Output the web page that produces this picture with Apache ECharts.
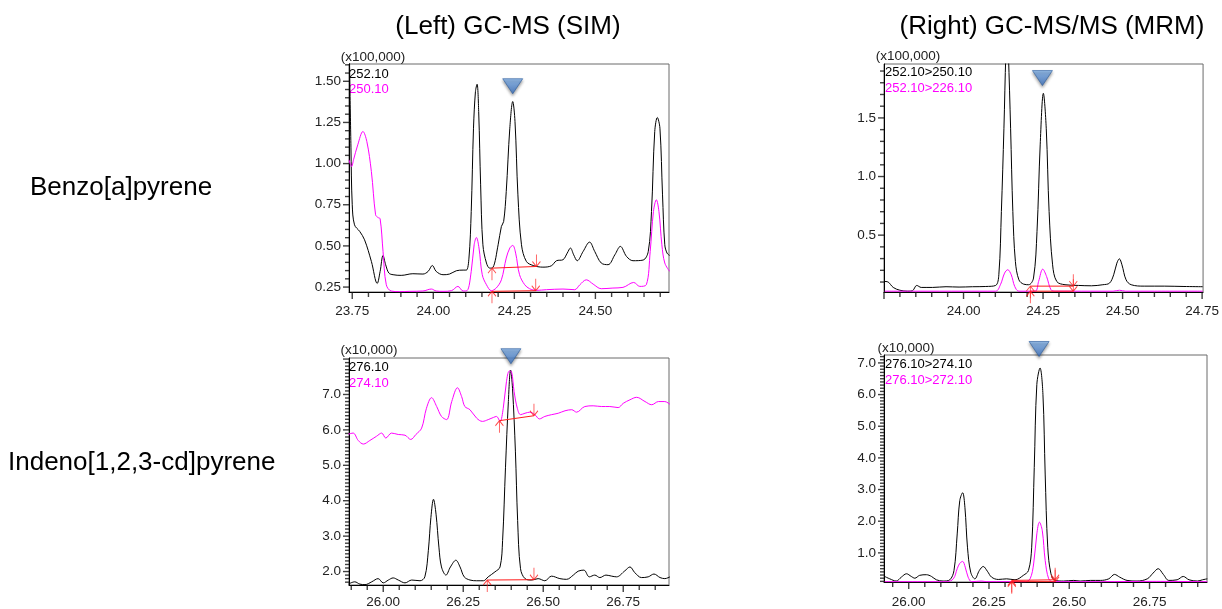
<!DOCTYPE html>
<html>
<head>
<meta charset="utf-8">
<script src="https://cdn.jsdelivr.net/npm/echarts@6/dist/echarts.min.js"></script>
<style>
  body { margin: 0; background: #fff; }
</style>
</head>
<body>
<div id="main" style="width:1222px;height:609px"></div>
<script>
// Benzo[a]pyrene, GC-MS (SIM): [retention time, intensity x100,000]
const bapSim252 = [[23.741,1.70],[23.746,1.10],[23.750,0.75],[23.757,0.628],[23.773,0.588],[23.788,0.537],[23.809,0.406],[23.827,0.272],[23.836,0.345],[23.845,0.442],[23.853,0.386],[23.863,0.335],[23.876,0.325],[23.901,0.321],[23.937,0.331],[23.968,0.329],[23.984,0.345],[23.997,0.381],[24.009,0.345],[24.030,0.325],[24.050,0.329],[24.071,0.349],[24.092,0.353],[24.102,0.353],[24.110,0.426],[24.117,0.709],[24.124,1.215],[24.130,1.437],[24.135,1.482],[24.140,1.316],[24.146,0.871],[24.153,0.507],[24.164,0.396],[24.174,0.365],[24.184,0.369],[24.200,0.507],[24.210,0.618],[24.217,0.648],[24.225,0.830],[24.236,1.215],[24.245,1.377],[24.252,1.256],[24.261,0.810],[24.272,0.507],[24.287,0.406],[24.308,0.381],[24.338,0.371],[24.364,0.379],[24.380,0.410],[24.400,0.416],[24.413,0.456],[24.423,0.487],[24.433,0.446],[24.444,0.410],[24.462,0.466],[24.482,0.523],[24.498,0.466],[24.518,0.396],[24.539,0.386],[24.560,0.446],[24.577,0.497],[24.596,0.436],[24.616,0.410],[24.647,0.414],[24.663,0.466],[24.673,0.709],[24.683,1.195],[24.691,1.280],[24.699,1.215],[24.707,0.810],[24.714,0.507],[24.721,0.456],[24.729,0.442]];
const bapSim250 = [[23.740,1.023],[23.748,0.982],[23.754,1.023],[23.767,1.114],[23.783,1.195],[23.795,1.134],[23.809,0.952],[23.822,0.689],[23.829,0.673],[23.836,0.665],[23.845,0.466],[23.855,0.264],[23.870,0.226],[23.896,0.222],[23.927,0.224],[23.968,0.226],[23.994,0.238],[24.009,0.226],[24.030,0.224],[24.056,0.228],[24.076,0.254],[24.092,0.226],[24.104,0.228],[24.117,0.345],[24.126,0.507],[24.133,0.551],[24.141,0.487],[24.151,0.325],[24.164,0.264],[24.179,0.228],[24.194,0.244],[24.210,0.294],[24.225,0.426],[24.236,0.487],[24.245,0.503],[24.254,0.456],[24.266,0.325],[24.282,0.264],[24.297,0.240],[24.318,0.230],[24.349,0.234],[24.400,0.238],[24.436,0.234],[24.452,0.264],[24.472,0.294],[24.493,0.268],[24.518,0.240],[24.554,0.244],[24.585,0.248],[24.618,0.278],[24.637,0.254],[24.657,0.264],[24.669,0.466],[24.679,0.709],[24.688,0.780],[24.696,0.709],[24.705,0.507],[24.714,0.396],[24.729,0.345]];
const bapSimBase252 = [[24.181,0.365],[24.318,0.375]];
const bapSimBase250 = [[24.181,0.224],[24.316,0.228]];

// Benzo[a]pyrene, GC-MS/MS (MRM)
const bapMrm250 = [[23.752,0.105],[23.763,0.100],[23.779,0.054],[23.800,0.030],[23.825,0.022],[23.839,0.025],[23.853,0.071],[23.867,0.054],[23.903,0.054],[23.945,0.060],[23.986,0.057],[24.028,0.060],[24.070,0.062],[24.101,0.071],[24.111,0.162],[24.119,0.702],[24.127,1.412],[24.133,2.05],[24.137,2.30],[24.141,2.05],[24.148,1.412],[24.155,0.702],[24.163,0.276],[24.174,0.119],[24.189,0.082],[24.205,0.077],[24.220,0.134],[24.231,0.531],[24.241,1.270],[24.251,1.710],[24.260,1.412],[24.269,0.702],[24.280,0.247],[24.293,0.105],[24.319,0.077],[24.361,0.071],[24.402,0.068],[24.438,0.077],[24.459,0.091],[24.472,0.162],[24.482,0.261],[24.490,0.298],[24.498,0.247],[24.511,0.119],[24.527,0.077],[24.568,0.065],[24.631,0.065],[24.693,0.062],[24.752,0.060]];
const bapMrm226 = [[23.752,0.022],[23.850,0.022],[24.000,0.022],[24.101,0.022],[24.116,0.077],[24.129,0.176],[24.139,0.205],[24.150,0.162],[24.161,0.062],[24.174,0.022],[24.225,0.022],[24.236,0.105],[24.249,0.210],[24.261,0.148],[24.275,0.034],[24.288,0.022],[24.400,0.022],[24.470,0.022],[24.490,0.030],[24.510,0.022],[24.600,0.022],[24.752,0.022]];
const bapMrmBase250 = [[24.210,0.065],[24.345,0.065]];
const bapMrmBase226 = [[24.210,0.022],[24.345,0.022]];

// Indeno[1,2,3-cd]pyrene, GC-MS (SIM): intensity x10,000
const indSim276 = [[25.891,1.645],[25.911,1.71],[25.927,1.645],[25.943,1.63],[25.964,1.71],[25.984,1.80],[26.000,1.68],[26.016,1.76],[26.031,1.82],[26.047,1.76],[26.068,1.68],[26.089,1.76],[26.115,1.74],[26.130,1.85],[26.141,2.60],[26.149,3.53],[26.157,4.04],[26.165,3.62],[26.174,2.69],[26.182,2.13],[26.196,1.90],[26.210,2.13],[26.227,2.32],[26.240,2.13],[26.253,1.85],[26.271,1.76],[26.292,1.74],[26.313,1.74],[26.328,1.85],[26.349,1.99],[26.365,2.13],[26.373,2.88],[26.382,4.93],[26.391,6.80],[26.398,7.69],[26.404,7.17],[26.413,5.40],[26.420,3.44],[26.429,2.08],[26.443,1.80],[26.464,1.76],[26.484,1.80],[26.505,1.74],[26.526,1.87],[26.552,1.80],[26.573,1.78],[26.594,1.90],[26.609,2.01],[26.627,2.04],[26.644,1.85],[26.661,1.90],[26.677,1.83],[26.696,1.90],[26.714,1.87],[26.729,1.85],[26.755,2.02],[26.771,2.13],[26.786,1.97],[26.807,1.83],[26.828,1.85],[26.846,1.93],[26.865,1.83],[26.880,1.80],[26.896,1.85]];
const indSim274 = [[25.891,5.88],[25.906,5.91],[25.922,5.70],[25.938,5.60],[25.958,5.70],[25.979,5.82],[25.995,5.91],[26.008,5.77],[26.026,5.91],[26.047,5.87],[26.068,5.85],[26.086,5.73],[26.102,5.87],[26.120,6.05],[26.135,6.61],[26.151,6.91],[26.167,6.66],[26.182,6.38],[26.198,6.29],[26.214,6.80],[26.232,7.19],[26.245,6.94],[26.255,6.66],[26.271,6.57],[26.292,6.33],[26.310,6.24],[26.328,6.29],[26.344,6.35],[26.354,6.38],[26.365,6.24],[26.375,6.61],[26.385,7.36],[26.394,7.66],[26.401,7.64],[26.409,7.08],[26.419,6.61],[26.429,6.43],[26.443,6.47],[26.458,6.50],[26.474,6.43],[26.488,6.31],[26.505,6.38],[26.526,6.43],[26.547,6.47],[26.568,6.54],[26.589,6.57],[26.604,6.50],[26.630,6.66],[26.656,6.68],[26.682,6.66],[26.708,6.66],[26.734,6.63],[26.750,6.75],[26.771,6.85],[26.792,6.92],[26.818,6.80],[26.839,6.71],[26.860,6.80],[26.880,6.80],[26.896,6.72]];
const indSimBase276 = [[26.325,1.76],[26.471,1.77]];
const indSimBase274 = [[26.363,6.26],[26.471,6.40]];

// Indeno[1,2,3-cd]pyrene, GC-MS/MS (MRM)
const indMrm274 = [[25.925,0.255],[25.941,0.18],[25.961,0.11],[25.977,0.234],[25.993,0.34],[26.008,0.255],[26.019,0.20],[26.034,0.29],[26.055,0.31],[26.071,0.255],[26.086,0.15],[26.107,0.11],[26.128,0.15],[26.141,0.444],[26.151,1.598],[26.159,2.65],[26.168,2.90],[26.175,2.44],[26.183,1.18],[26.193,0.39],[26.206,0.18],[26.220,0.444],[26.232,0.57],[26.245,0.42],[26.258,0.234],[26.279,0.16],[26.305,0.18],[26.331,0.15],[26.357,0.29],[26.373,0.444],[26.383,1.18],[26.391,3.70],[26.399,6.32],[26.409,6.84],[26.418,6.01],[26.425,3.49],[26.433,1.18],[26.443,0.34],[26.456,0.13],[26.482,0.11],[26.514,0.13],[26.534,0.11],[26.566,0.13],[26.597,0.13],[26.623,0.18],[26.641,0.32],[26.657,0.234],[26.680,0.13],[26.711,0.11],[26.743,0.18],[26.761,0.36],[26.777,0.50],[26.793,0.32],[26.810,0.13],[26.836,0.15],[26.855,0.255],[26.873,0.15],[26.899,0.11],[26.915,0.15],[26.930,0.18]];
const indMrm272 = [[25.925,0.09],[26.118,0.09],[26.139,0.18],[26.151,0.50],[26.159,0.67],[26.168,0.73],[26.176,0.55],[26.185,0.234],[26.196,0.09],[26.227,0.11],[26.243,0.09],[26.363,0.09],[26.378,0.18],[26.389,0.65],[26.399,1.60],[26.407,1.97],[26.416,1.70],[26.425,0.76],[26.436,0.18],[26.449,0.09],[26.600,0.09],[26.760,0.10],[26.930,0.09]];
const indMrmBase274 = [[26.321,0.13],[26.456,0.15]];
const indMrmBase272 = [[26.321,0.09],[26.456,0.09]];

// target peak markers (blue triangles)
const targetPeaks = [[24.245,1.47],[24.248,1.84],[26.399,8.08],[26.406,7.44]];

// tick labels
const bapSimXTicks = [23.75, 24.00, 24.25, 24.50];
const bapSimYTicks = [0.25, 0.50, 0.75, 1.00, 1.25, 1.50];
const bapMrmXTicks = [24.00, 24.25, 24.50, 24.75];
const bapMrmYTicks = [0.5, 1.0, 1.5];
const indXTicks = [26.00, 26.25, 26.50, 26.75];
const indSimYTicks = [2.0, 3.0, 4.0, 5.0, 6.0, 7.0];
const indMrmYTicks = [1.0, 2.0, 3.0, 4.0, 5.0, 6.0, 7.0];

const FONT = "'Liberation Sans', Arial, sans-serif";
const MAGENTA = '#ff00ff';

const panels = [
  { grid: { left: 349, top: 64, width: 320, height: 228 }, x: [23.74, 24.727], y: [0.22, 1.605],
    xTicks: bapSimXTicks, xSteps: [0.25, 0.05], yTicks: bapSimYTicks, ySteps: [0.25, 0.05], yDigits: 2, xMargin: 12,
    traces: [[bapSim252, '#000'], [bapSim250, MAGENTA]], bases: [bapSimBase252, bapSimBase250] },
  { grid: { left: 884, top: 64, width: 322, height: 228 }, x: [23.75, 24.753], y: [0.015, 1.96],
    xTicks: bapMrmXTicks, xSteps: [0.25, 0.05], yTicks: bapMrmYTicks, ySteps: [0.5, 0.1], yDigits: 1, xMargin: 12,
    traces: [[bapMrm250, '#000'], [bapMrm226, MAGENTA]], bases: [bapMrmBase250, bapMrmBase226] },
  { grid: { left: 349, top: 358, width: 320, height: 229 }, x: [25.893, 26.893], y: [1.62, 8.03],
    xTicks: indXTicks, xSteps: [0.25, 0.05], yTicks: indSimYTicks, ySteps: [1, 0.1], yDigits: 1, xMargin: 10,
    traces: [[indSim276, '#000'], [indSim274, MAGENTA]], bases: [indSimBase276, indSimBase274] },
  { grid: { left: 884, top: 355, width: 323, height: 227 }, x: [25.923, 26.929], y: [0.08, 7.25],
    xTicks: indXTicks, xSteps: [0.25, 0.05], yTicks: indMrmYTicks, ySteps: [1, 0.1], yDigits: 1, xMargin: 13,
    traces: [[indMrm274, '#000'], [indMrm272, MAGENTA]], bases: [indMrmBase274, indMrmBase272] }
];

const UP_ARROW = 'path://M4,0L4,12M4,0L0,5M4,0L8,5';
const DOWN_ARROW = 'path://M4,12L4,0M4,12L0,7M4,12L8,7';

const r6 = v => Math.round(v * 1e6) / 1e6;
function stepValues(lo, hi, step, skipStep) {
  const out = [];
  const n0 = Math.ceil(lo / step - 1e-6), n1 = Math.floor(hi / step + 1e-6);
  for (let n = n0; n <= n1; n++) {
    const v = r6(n * step);
    if (skipStep && Math.abs(v / skipStep - Math.round(v / skipStep)) < 1e-6) continue;
    out.push(v);
  }
  return out;
}

// tick marks: thin rect symbols sitting on the axis, placed through the panel's scales
function tickSeries(i, points, size, offset) {
  return {
    type: 'scatter', xAxisIndex: i, yAxisIndex: i, clip: false,
    symbol: 'rect', symbolSize: size, symbolOffset: offset,
    itemStyle: { color: '#111' },
    data: points
  };
}

const grids = [], xAxes = [], yAxes = [], series = [];

panels.forEach((p, i) => {
  grids.push(Object.assign({ show: true, borderColor: '#6a6a6a', borderWidth: 1 }, p.grid));
  const labelStyle = { fontSize: 13.5, color: '#222', fontFamily: FONT };
  xAxes.push({
    type: 'value', gridIndex: i, position: 'bottom', min: p.x[0], max: p.x[1],
    axisLine: { show: true, onZero: false, lineStyle: { color: '#000' } },
    axisTick: { show: false },
    axisLabel: Object.assign({ customValues: p.xTicks, margin: p.xMargin, formatter: v => v.toFixed(2) }, labelStyle),
    splitLine: { show: false }
  });
  yAxes.push({
    type: 'value', gridIndex: i, position: 'left', min: p.y[0], max: p.y[1],
    axisLine: { show: true, onZero: false, lineStyle: { color: '#000' } },
    axisTick: { show: false },
    axisLabel: Object.assign({ customValues: p.yTicks, margin: 8, formatter: v => v.toFixed(p.yDigits) }, labelStyle),
    splitLine: { show: false }
  });

  // x major / minor ticks below the axis, y major / minor left of it
  const xMajor = stepValues(p.x[0], p.x[1], p.xSteps[0]).map(v => [v, p.y[0]]);
  const xMinor = stepValues(p.x[0], p.x[1], p.xSteps[1], p.xSteps[0]).map(v => [v, p.y[0]]);
  const yMajor = stepValues(p.y[0], p.y[1], p.ySteps[0]).map(v => [p.x[0], v]);
  const yMinor = stepValues(p.y[0], p.y[1], p.ySteps[1], p.ySteps[0]).map(v => [p.x[0], v]);
  series.push(tickSeries(i, xMajor, [1.4, 7], [0, 3.5]));
  series.push(tickSeries(i, xMinor, [1.4, 5], [0, 2.5]));
  series.push(tickSeries(i, yMajor, [6, 1.4], [-3, 0]));
  series.push(tickSeries(i, yMinor, [4, 1.4], [-2, 0]));

  p.traces.forEach(([data, color]) => {
    series.push({
      type: 'line', xAxisIndex: i, yAxisIndex: i, data: data, smooth: 0.35,
      showSymbol: false, symbol: 'none', clip: true,
      lineStyle: { color: color, width: 1 }, itemStyle: { color: color }
    });
  });
  p.bases.forEach(base => {
    series.push({
      type: 'line', xAxisIndex: i, yAxisIndex: i, data: base, symbol: 'none',
      lineStyle: { color: '#ff1a1a', width: 1 }, z: 5
    });
    series.push({
      type: 'scatter', xAxisIndex: i, yAxisIndex: i, clip: false, z: 6,
      itemStyle: { color: 'rgba(0,0,0,0)', borderColor: '#ff1a1a', borderWidth: 1 },
      data: [
        { value: base[0], symbol: UP_ARROW, symbolSize: [8, 12], symbolOffset: [0, 6] },
        { value: base[1], symbol: DOWN_ARROW, symbolSize: [8, 12], symbolOffset: [0, -6] }
      ]
    });
  });
  series.push({
    type: 'scatter', xAxisIndex: i, yAxisIndex: i, clip: false, z: 10,
    symbol: 'triangle', symbolRotate: 180, symbolSize: [20, 15],
    itemStyle: {
      color: new echarts.graphic.LinearGradient(0, 0, 0, 1, [
        { offset: 0, color: '#3a70c0' }, { offset: 1, color: '#86b8f0' }
      ]),
      borderColor: '#2f5f9f', borderWidth: 0.8,
      shadowBlur: 3, shadowColor: 'rgba(0,0,0,0.45)', shadowOffsetY: 2
    },
    data: [targetPeaks[i]]
  });
});

function txt(text, x, y, opts) {
  return {
    type: 'text', x: x, y: y, silent: true,
    style: Object.assign({ text: text, fill: '#000', font: '13px ' + FONT, textAlign: 'left', textVerticalAlign: 'middle' }, opts || {})
  };
}

const BIG = '26px ' + FONT;
const UNIT = '13.5px ' + FONT;
const graphics = [
  txt('(Left) GC-MS (SIM)', 508, 27, { font: BIG, textAlign: 'center' }),
  txt('(Right) GC-MS/MS (MRM)', 1052, 27, { font: BIG, textAlign: 'center' }),
  txt('Benzo[a]pyrene', 30, 188, { font: BIG }),
  txt('Indeno[1,2,3-cd]pyrene', 8, 463, { font: BIG }),
  txt('(x100,000)', 373, 57, { textAlign: 'center', fill: '#222', font: UNIT }),
  txt('(x100,000)', 908, 56, { textAlign: 'center', fill: '#222', font: UNIT }),
  txt('(x10,000)', 369, 350, { textAlign: 'center', fill: '#222', font: UNIT }),
  txt('(x10,000)', 906, 348, { textAlign: 'center', fill: '#222', font: UNIT }),
  txt('252.10', 349, 74),
  txt('250.10', 349, 89, { fill: MAGENTA }),
  txt('252.10>250.10', 885, 72),
  txt('252.10>226.10', 885, 88, { fill: MAGENTA }),
  txt('276.10', 349, 367),
  txt('274.10', 349, 383, { fill: MAGENTA }),
  txt('276.10>274.10', 885, 364),
  txt('276.10>272.10', 885, 380, { fill: MAGENTA })
];

const chart = echarts.init(document.getElementById('main'));
chart.setOption({
  animation: false,
  backgroundColor: '#fff',
  grid: grids,
  xAxis: xAxes,
  yAxis: yAxes,
  series: series,
  graphic: graphics
});
</script>
</body>
</html>
